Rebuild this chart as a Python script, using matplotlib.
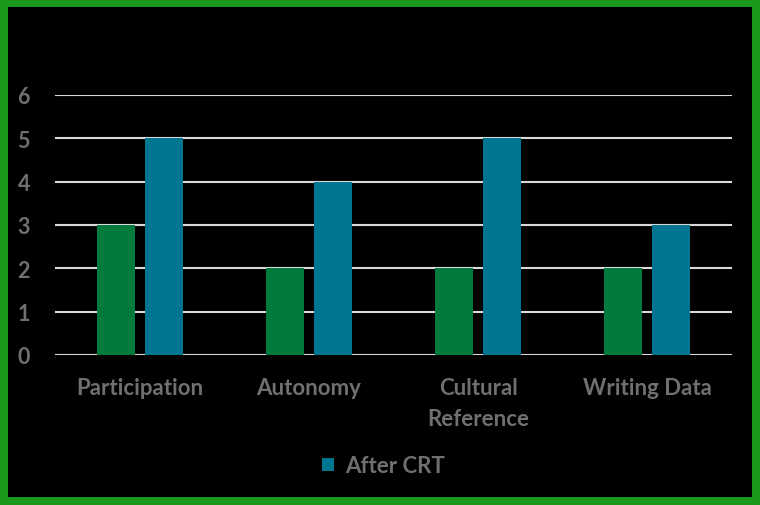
import matplotlib.pyplot as plt
import matplotlib.patches as mpatches
import numpy as np

categories = ["Participation", "Autonomy", "Cultural\nReference", "Writing Data"]
before_crt = [3, 2, 2, 2]
after_crt = [5, 4, 5, 3]

GREEN = "#007A3D"
TEAL = "#00758F"
TXT = "#707070"

plt.rcParams["font.family"] = ["Lato", "DejaVu Sans"]
plt.rcParams["font.weight"] = "bold"

fig = plt.figure(figsize=(7.6, 5.06), dpi=100)
fig.patch.set_facecolor("black")
ax = fig.add_axes([55 / 760, 1 - 356 / 506, (732 - 55) / 760, (356 - 96) / 506])
ax.set_facecolor("black")

x = np.arange(len(categories))
w = 0.225
ax.bar(x - 0.142, before_crt, w, color=GREEN, label="Before CRT", zorder=3)
bars_after = ax.bar(x + 0.142, after_crt, w, color=TEAL, label="After CRT", zorder=3)

ax.set_xlim(-0.5, 3.5)
ax.set_ylim(0, 6)
ax.set_yticks(range(0, 7))
ax.yaxis.grid(True, color="#d9d9d9", lw=1.5, zorder=1)
for s in ax.spines.values():
    s.set_visible(False)
ax.set_xticks(x)
ax.set_xticklabels(categories, fontsize=16, color=TXT, linespacing=1.6, fontweight="bold")
ax.tick_params(axis="x", length=0, pad=16)
ax.tick_params(axis="y", length=0, pad=18, labelsize=15.5, labelcolor=TXT)

leg = fig.legend(handles=[bars_after], loc="center", bbox_to_anchor=(0.505, 1 - 467 / 506),
                 frameon=False, prop={"size": 16, "weight": "bold"}, handlelength=0.55,
                 handleheight=0.55, handletextpad=0.5)
for t in leg.get_texts():
    t.set_color(TXT)

border = mpatches.Rectangle((0, 0), 1, 1, transform=fig.transFigure, fill=False,
                            ec="#1A9A1A", lw=11.5, zorder=10)
fig.patches.append(border)

fig.savefig("out.png", dpi=100, facecolor=fig.get_facecolor())
